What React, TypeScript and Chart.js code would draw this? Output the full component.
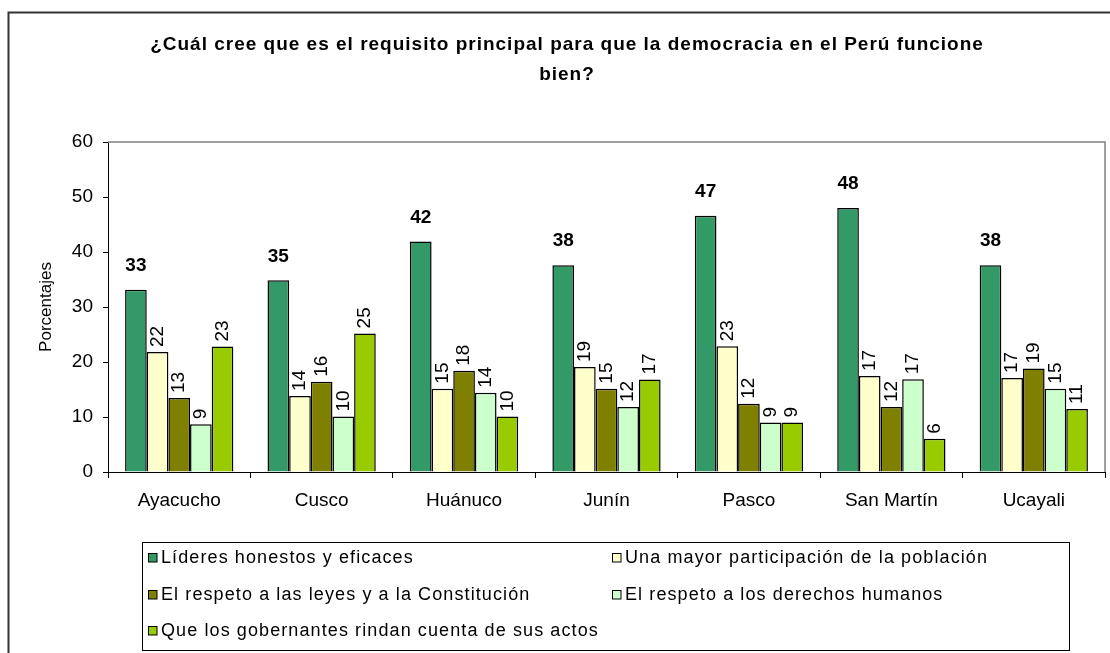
import { useEffect, useRef } from 'react';
import { Chart, registerables } from 'chart.js';
Chart.register(...registerables);

const categories = ['Ayacucho', 'Cusco', 'Huánuco', 'Junín', 'Pasco', 'San Martín', 'Ucayali'];
const seriesNames = [
  'Líderes honestos y eficaces',
  'Una mayor participación de la población',
  'El respeto a las leyes y a la Constitución',
  'El respeto a los derechos humanos',
  'Que los gobernantes rindan cuenta de sus actos',
];
const lideres = [33.15, 34.85, 41.9, 37.6, 46.6, 48.0, 37.6];
const participacion = [21.8, 13.8, 15.15, 19.1, 22.85, 17.45, 17.1];
const leyes = [13.45, 16.4, 18.4, 15.15, 12.4, 11.8, 18.8];
const derechos = [8.7, 10.1, 14.4, 11.8, 9.0, 16.85, 15.15];
const cuentas = [22.8, 25.2, 10.1, 16.8, 9.0, 6.06, 11.45];
const seriesValues = [lideres, participacion, leyes, derechos, cuentas];
const colors = ['#339966', '#FFFFCC', '#808000', '#CCFFCC', '#99CC00'];
const titleLines = [
  '¿Cuál cree que es el requisito principal para que la democracia en el Perú funcione',
  'bien?',
];
const yAxisTitle = 'Porcentajes';
const yMin = 0;
const yMax = 60;
const yStep = 10;

const FONT = '"Liberation Sans", Arial, sans-serif';

const decorPlugin = {
  id: 'decor',
  beforeDraw(chart: any) {
    const ctx = chart.ctx;
    ctx.save();
    ctx.fillStyle = '#fff';
    ctx.fillRect(0, 0, chart.width, chart.height);
    ctx.restore();
  },
  afterDraw(chart: any) {
    const ctx = chart.ctx;
    const ca = chart.chartArea;
    ctx.save();
    // outer frame
    ctx.strokeStyle = '#333';
    ctx.lineWidth = 2;
    ctx.strokeRect(8.5, 12.5, 1200, 800);
    // plot area gray top/right border
    ctx.strokeStyle = '#808080';
    ctx.lineWidth = 1.5;
    ctx.beginPath();
    ctx.moveTo(ca.left, ca.top);
    ctx.lineTo(ca.right, ca.top);
    ctx.lineTo(ca.right, ca.bottom);
    ctx.stroke();
    // title
    ctx.fillStyle = '#000';
    ctx.font = `bold 19px ${FONT}`;
    ctx.textAlign = 'center';
    ctx.textBaseline = 'middle';
    ctx.letterSpacing = '1px';
    ctx.fillText(titleLines[0], 567, 45);
    ctx.fillText(titleLines[1], 567, 75);
    ctx.letterSpacing = '0px';
    // y axis title
    ctx.save();
    ctx.translate(46, (ca.top + ca.bottom) / 2);
    ctx.rotate(-Math.PI / 2);
    ctx.font = `17px ${FONT}`;
    ctx.fillText(yAxisTitle, 0, 0);
    ctx.restore();
    // legend
    ctx.strokeStyle = '#000';
    ctx.lineWidth = 1;
    ctx.strokeRect(142.5, 542.5, 927, 108);
    const rows = [557, 594, 630];
    const cols = [148, 612];
    ctx.font = `18px ${FONT}`;
    ctx.textAlign = 'left';
    ctx.letterSpacing = '1.1px';
    seriesNames.forEach((name, i) => {
      const x = cols[i % 2];
      const y = rows[Math.floor(i / 2)];
      ctx.fillStyle = colors[i];
      ctx.fillRect(x, y - 4, 9, 9);
      ctx.strokeStyle = '#000';
      ctx.strokeRect(x + 0.5, y - 3.5, 8.5, 8.5);
      ctx.fillStyle = '#000';
      ctx.fillText(name, x + 13, y + 1);
    });
    ctx.letterSpacing = '0px';
    ctx.restore();
  },
  afterDatasetsDraw(chart: any) {
    const ctx = chart.ctx;
    ctx.save();
    ctx.fillStyle = '#000';
    chart.data.datasets.forEach((ds: any, di: number) => {
      const meta = chart.getDatasetMeta(di);
      meta.data.forEach((bar: any, i: number) => {
        const label = String(Math.round(ds.data[i]));
        if (di === 0) {
          ctx.font = `bold 19px ${FONT}`;
          ctx.textAlign = 'center';
          ctx.textBaseline = 'middle';
          ctx.fillText(label, bar.x, bar.y - 24);
        } else {
          ctx.save();
          ctx.translate(bar.x, bar.y - 5);
          ctx.rotate(-Math.PI / 2);
          ctx.font = `19px ${FONT}`;
          ctx.textAlign = 'left';
          ctx.textBaseline = 'middle';
          ctx.fillText(label, 0, 0);
          ctx.restore();
        }
      });
    });
    ctx.restore();
  },
};

export default function App() {
  const ref = useRef<HTMLCanvasElement>(null);
  useEffect(() => {
    document.body.style.margin = '0';
    const chart = new Chart(ref.current!, {
      type: 'bar',
      data: {
        labels: categories,
        datasets: seriesNames.map((name, i) => ({
          label: name,
          data: seriesValues[i],
          backgroundColor: colors[i],
          borderColor: '#000',
          borderWidth: 1.5,
          categoryPercentage: 0.76,
          barPercentage: 1.0,
        })),
      },
      options: {
        animation: false,
        responsive: false,
        devicePixelRatio: 1,
        layout: { padding: { left: 0, right: 5, top: 142, bottom: 141 } },
        plugins: {
          legend: { display: false },
          title: { display: false },
          tooltip: { enabled: false },
        },
        scales: {
          x: {
            afterFit: (s: any) => { s.height = 40; },
            grid: { drawOnChartArea: false, tickLength: 6, tickColor: '#000', offset: true },
            border: { color: '#000', width: 1 },
            ticks: { color: '#000', font: { family: FONT, size: 19 }, padding: 11 },
          },
          y: {
            min: yMin,
            max: yMax,
            afterFit: (s: any) => { s.width = 108; },
            grid: { drawOnChartArea: false, tickLength: 5, tickColor: '#000' },
            border: { color: '#000', width: 1 },
            ticks: { stepSize: yStep, color: '#000', font: { family: FONT, size: 19 }, padding: 10 },
          },
        },
      },
      plugins: [decorPlugin],
    });
    return () => chart.destroy();
  }, []);
  return (
    <div style={{ position: 'absolute', left: 0, top: 0, width: 1110, height: 653 }}>
      <canvas ref={ref} width={1110} height={653} />
    </div>
  );
}
